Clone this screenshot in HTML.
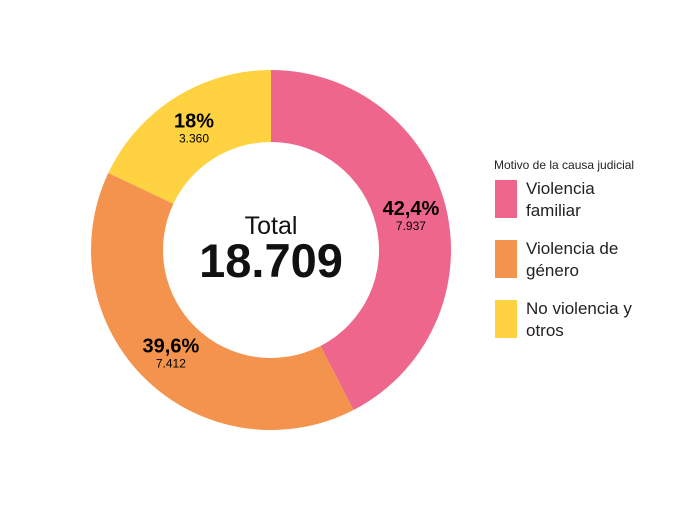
<!DOCTYPE html>
<html><head><meta charset="utf-8"><style>
body{margin:0;background:#fff;width:700px;height:500px;overflow:hidden;font-family:"Liberation Sans",sans-serif;}
</style></head><body>
<svg width="700" height="500">
<g id="slices"></g>
<g id="labels"></g>
<text x="271" y="234" text-anchor="middle" font-size="25" fill="#111">Total</text>
<text x="271" y="277" text-anchor="middle" font-size="47" font-weight="bold" fill="#111">18.709</text>
<text x="494" y="169" font-size="12" fill="#222">Motivo de la causa judicial</text>
<g id="legend"></g>
</svg>
<script>
const categories=["Violencia familiar","Violencia de género","No violencia y otros"];
const legendLines=[["Violencia","familiar"],["Violencia de","género"],["No violencia y","otros"]];
const values=[7937,7412,3360];
const pctLabels=["42,4%","39,6%","18%"];
const valLabels=["7.937","7.412","3.360"];
const colors=["#EE668C","#F4934D","#FFD242"];
const NS="http://www.w3.org/2000/svg";
const cx=271,cy=250,R=180,r=108;
const total=values.reduce((a,b)=>a+b,0);
function pt(a,rad){return [cx+rad*Math.sin(a),cy-rad*Math.cos(a)];}
let a0=0;
const sl=document.getElementById('slices'),lb=document.getElementById('labels'),lg=document.getElementById('legend');
values.forEach((v,i)=>{
 const a1=a0+v/total*2*Math.PI;
 const big=(a1-a0)>Math.PI?1:0;
 const p1=pt(a0,R),p2=pt(a1,R),p3=pt(a1,r),p4=pt(a0,r);
 const p=document.createElementNS(NS,'path');
 p.setAttribute('d',`M${p1}A${R},${R} 0 ${big} 1 ${p2}L${p3}A${r},${r} 0 ${big} 0 ${p4}Z`);
 p.setAttribute('fill',colors[i]);
 
 
 sl.appendChild(p);
 const m=(a0+a1)/2,c=pt(m,(R+r)/2);
 const t=document.createElementNS(NS,'text');
 t.setAttribute('x',c[0]);t.setAttribute('y',c[1]-1);t.setAttribute('text-anchor','middle');
 t.setAttribute('font-size','20');t.setAttribute('font-weight','bold');t.textContent=pctLabels[i];
 
 
 lb.appendChild(t);
 const t2=document.createElementNS(NS,'text');
 t2.setAttribute('x',c[0]);t2.setAttribute('y',c[1]+14);t2.setAttribute('text-anchor','middle');
 t2.setAttribute('font-size','12');t2.textContent=valLabels[i];
 
 
 lb.appendChild(t2);
 const y=180+i*60;
 const rc=document.createElementNS(NS,'rect');
 rc.setAttribute('x',495);rc.setAttribute('y',y);rc.setAttribute('width',22);rc.setAttribute('height',38);rc.setAttribute('fill',colors[i]);
 
 
 lg.appendChild(rc);
 legendLines[i].forEach((s,j)=>{
  const lt=document.createElementNS(NS,'text');
  lt.setAttribute('x',526);lt.setAttribute('y',y+14+j*22);lt.setAttribute('font-size','17');lt.setAttribute('fill','#222');
  lt.textContent=s;
  
  
  lg.appendChild(lt);
 });
 a0=a1;
});
</script>
</body></html>
